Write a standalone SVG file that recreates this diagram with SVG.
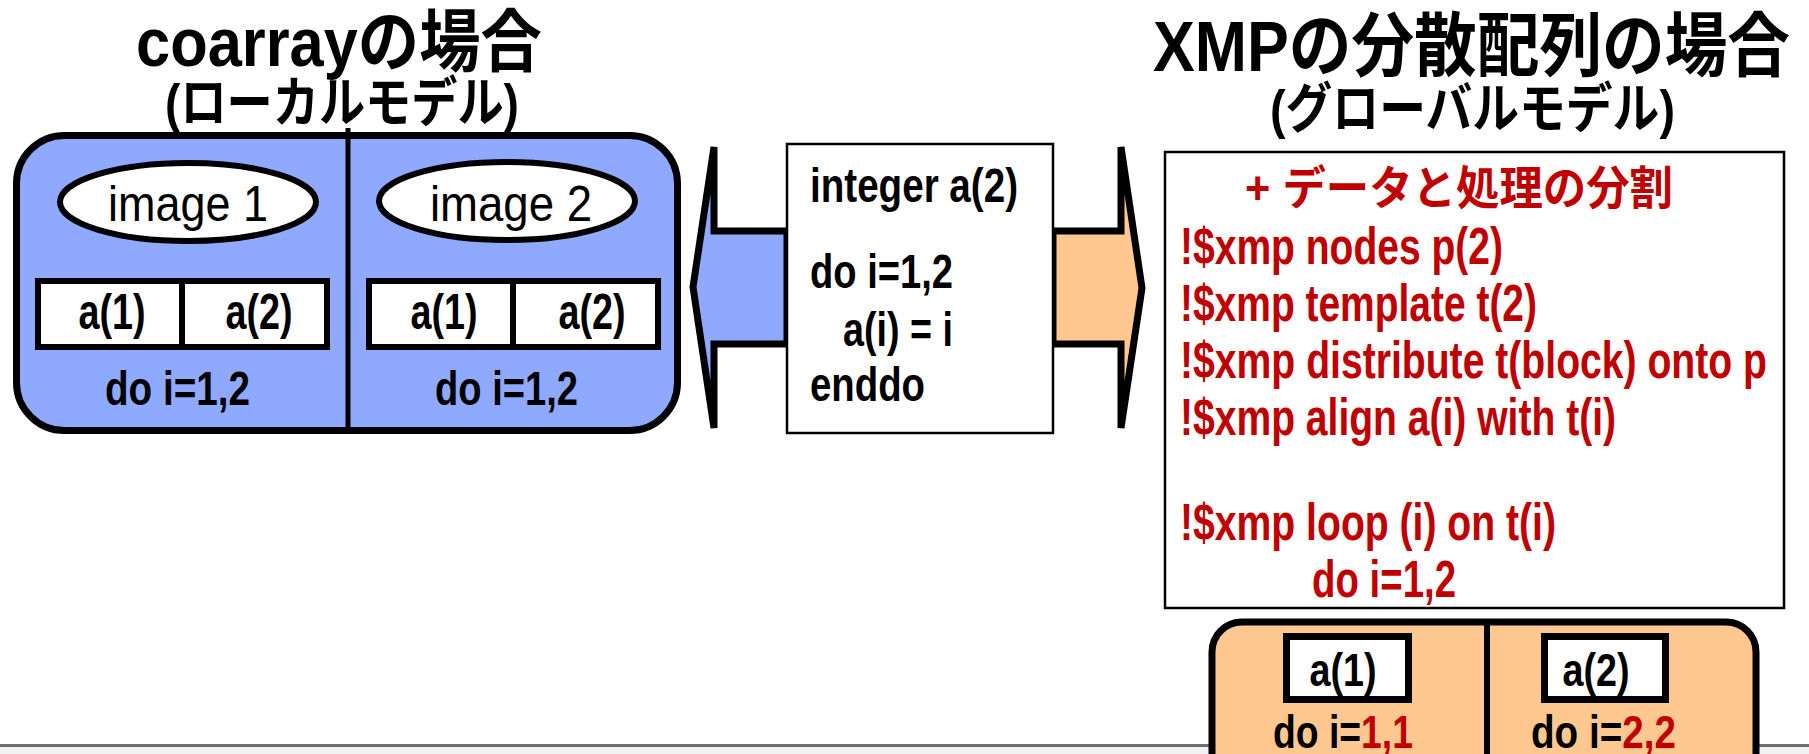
<svg xmlns="http://www.w3.org/2000/svg" width="1809" height="754" viewBox="0 0 1809 754">
<style>
  text { font-family: "Liberation Sans", "Noto Sans CJK JP", sans-serif; font-weight: bold; fill: #000; }
  .reg { font-weight: normal; }
  .red { fill: #C00000; }
  .blue { fill: #8FA9FF; stroke: #000; stroke-width: 7; }
  .orange { fill: #FFC891; stroke: #000; stroke-width: 7; }
  .cell { fill: #fff; stroke: #000; stroke-width: 6; }
  .thin { fill: #fff; stroke: #000; stroke-width: 2.5; }
  .div { stroke: #000; stroke-width: 5; }
</style>

<!-- bottom rule -->
<g id="bottom-rule">
  <rect x="0" y="744" width="1809" height="3" fill="#707070"/>
  <rect x="0" y="747" width="1809" height="7" fill="#f2f2f2"/>
</g>

<!-- titles -->
<g id="title-left">
  <text x="136" y="66" font-size="68" textLength="406" lengthAdjust="spacingAndGlyphs">coarrayの場合</text>
  <text x="165" y="122" font-size="54" textLength="354" lengthAdjust="spacingAndGlyphs">(ローカルモデル)</text>
</g>
<g id="title-right">
  <text x="1153" y="71" font-size="70" textLength="637" lengthAdjust="spacingAndGlyphs">XMPの分散配列の場合</text>
  <text x="1270" y="128" font-size="54" textLength="405" lengthAdjust="spacingAndGlyphs">(グローバルモデル)</text>
</g>

<!-- connectors (block arrows) -->
<g id="connectors">
  <polygon class="blue" points="693,287 714,147 714,231 787,231 787,344 714,344 714,428"/>
  <polygon class="orange" points="1053,231 1121,231 1121,147 1142,288 1121,428 1121,344 1053,344"/>
</g>

<!-- coarray (local model) node -->
<g id="coarray-node">
  <rect class="blue" x="16.5" y="135.5" width="661" height="295" rx="48"/>
  <line class="div" x1="348" y1="128" x2="348" y2="431"/>
  <g id="image1">
    <ellipse cx="188" cy="202" rx="128" ry="39" fill="#fff" stroke="#000" stroke-width="6"/>
    <text class="reg" x="108" y="221" font-size="50" textLength="160" lengthAdjust="spacingAndGlyphs">image 1</text>
    <rect class="cell" x="38" y="281" width="289" height="66"/>
    <line x1="182" y1="281" x2="182" y2="347" stroke="#000" stroke-width="6"/>
    <text x="112" y="329" font-size="50" text-anchor="middle" textLength="67" lengthAdjust="spacingAndGlyphs">a(1)</text>
    <text x="259" y="329" font-size="50" text-anchor="middle" textLength="67" lengthAdjust="spacingAndGlyphs">a(2)</text>
    <text x="105" y="405" font-size="48" textLength="145" lengthAdjust="spacingAndGlyphs">do i=1,2</text>
  </g>
  <g id="image2">
    <ellipse cx="507" cy="201" rx="128" ry="39" fill="#fff" stroke="#000" stroke-width="6"/>
    <text class="reg" x="430" y="221" font-size="50" textLength="162" lengthAdjust="spacingAndGlyphs">image 2</text>
    <rect class="cell" x="369" y="281" width="289" height="66"/>
    <line x1="513" y1="281" x2="513" y2="347" stroke="#000" stroke-width="6"/>
    <text x="444" y="329" font-size="50" text-anchor="middle" textLength="67" lengthAdjust="spacingAndGlyphs">a(1)</text>
    <text x="592" y="329" font-size="50" text-anchor="middle" textLength="67" lengthAdjust="spacingAndGlyphs">a(2)</text>
    <text x="435" y="405" font-size="48" textLength="143" lengthAdjust="spacingAndGlyphs">do i=1,2</text>
  </g>
</g>

<!-- sequential source node -->
<g id="source-node">
  <rect class="thin" x="787" y="144" width="266" height="289"/>
  <text x="810" y="202" font-size="48" textLength="208" lengthAdjust="spacingAndGlyphs">integer a(2)</text>
  <text x="810" y="288" font-size="48" textLength="143" lengthAdjust="spacingAndGlyphs">do i=1,2</text>
  <text x="843" y="346" font-size="48" textLength="110" lengthAdjust="spacingAndGlyphs">a(i) = i</text>
  <text x="810" y="401" font-size="48" textLength="115" lengthAdjust="spacingAndGlyphs">enddo</text>
</g>

<!-- XMP directives node -->
<g id="xmp-node">
  <rect class="thin" x="1165" y="152" width="619" height="456"/>
  <text class="red" x="1245" y="204" font-size="46" textLength="428" lengthAdjust="spacingAndGlyphs">+ データと処理の分割</text>
  <text class="red" x="1180" y="264" font-size="52" textLength="323" lengthAdjust="spacingAndGlyphs">!$xmp nodes p(2)</text>
  <text class="red" x="1180" y="321" font-size="52" textLength="357" lengthAdjust="spacingAndGlyphs">!$xmp template t(2)</text>
  <text class="red" x="1180" y="378" font-size="52" textLength="587" lengthAdjust="spacingAndGlyphs">!$xmp distribute t(block) onto p</text>
  <text class="red" x="1180" y="435" font-size="52" textLength="436" lengthAdjust="spacingAndGlyphs">!$xmp align a(i) with t(i)</text>
  <text class="red" x="1180" y="540" font-size="52" textLength="376" lengthAdjust="spacingAndGlyphs">!$xmp loop (i) on t(i)</text>
  <text class="red" x="1312" y="597" font-size="52" textLength="144" lengthAdjust="spacingAndGlyphs">do i=1,2</text>
</g>

<!-- distributed array node -->
<g id="dist-node">
  <rect class="orange" x="1212" y="622" width="544" height="200" rx="30" stroke-width="8"/>
  <line x1="1487" y1="622" x2="1487" y2="760" stroke="#000" stroke-width="6"/>
  <g id="node1">
    <rect fill="#fff" stroke="#000" stroke-width="7" x="1286.5" y="636.5" width="122" height="63"/>
    <text x="1343" y="686" font-size="46" text-anchor="middle" textLength="67" lengthAdjust="spacingAndGlyphs">a(1)</text>
    <text x="1273" y="748" font-size="47" textLength="140" lengthAdjust="spacingAndGlyphs">do i=<tspan class="red">1,1</tspan></text>
  </g>
  <g id="node2">
    <rect fill="#fff" stroke="#000" stroke-width="7" x="1544.5" y="636.5" width="121" height="63"/>
    <text x="1596" y="686" font-size="46" text-anchor="middle" textLength="67" lengthAdjust="spacingAndGlyphs">a(2)</text>
    <text x="1531" y="748" font-size="47" textLength="145" lengthAdjust="spacingAndGlyphs">do i=<tspan class="red">2,2</tspan></text>
  </g>
</g>
</svg>
